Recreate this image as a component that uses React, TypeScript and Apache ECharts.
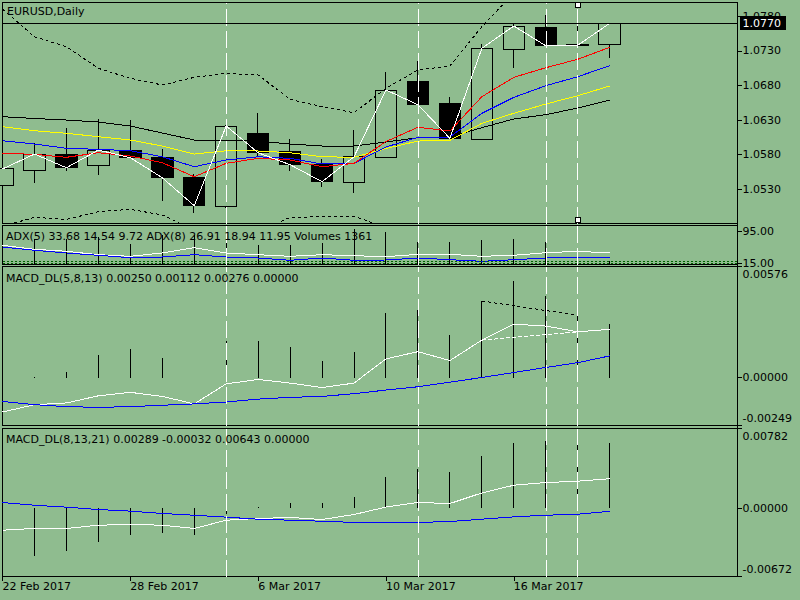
import React, { useEffect, useRef } from "react";
import * as echarts from "echarts";

// ---------- data ----------
const dates = [
  "22 Feb 2017", "23 Feb 2017", "24 Feb 2017", "27 Feb 2017", "28 Feb 2017",
  "1 Mar 2017", "2 Mar 2017", "3 Mar 2017", "6 Mar 2017", "7 Mar 2017",
  "8 Mar 2017", "9 Mar 2017", "10 Mar 2017", "13 Mar 2017", "14 Mar 2017",
  "15 Mar 2017", "16 Mar 2017", "17 Mar 2017", "20 Mar 2017", "21 Mar 2017",
];
const opens = [1.05362, 1.05569, 1.0581, 1.05647, 1.05868, 1.05753, 1.05464, 1.05054, 1.061, 1.05844, 1.05656, 1.05396, 1.05763, 1.06866, 1.06543, 1.06023, 1.07324, 1.07642, 1.07401, 1.07396];
const closes = [1.05594, 1.0581, 1.05612, 1.05868, 1.05757, 1.05468, 1.05063, 1.06215, 1.05829, 1.05656, 1.0541, 1.05771, 1.06736, 1.06523, 1.06037, 1.07339, 1.07661, 1.07376, 1.07382, 1.077];
const highs = [1.0562, 1.05965, 1.06182, 1.06316, 1.06302, 1.05878, 1.05521, 1.0623, 1.06399, 1.06023, 1.05734, 1.06157, 1.07, 1.07155, 1.06639, 1.07401, 1.0769, 1.0782, 1.07772, 1.0771];
const lows = [1.0533, 1.05387, 1.05569, 1.05511, 1.0575, 1.05135, 1.04953, 1.05037, 1.05774, 1.05569, 1.05338, 1.05251, 1.05753, 1.06519, 1.06027, 1.0602, 1.07049, 1.07372, 1.0737, 1.07194];

const maRed = [1.05821, 1.05806, 1.05763, 1.05829, 1.05782, 1.05685, 1.05482, 1.05676, 1.05748, 1.05724, 1.05627, 1.05676, 1.05991, 1.06197, 1.06143, 1.06639, 1.06919, 1.07058, 1.0718, 1.07353];
const maBlue = [1.06003, 1.05955, 1.05893, 1.05878, 1.05858, 1.05771, 1.05627, 1.05724, 1.05771, 1.05748, 1.05666, 1.05676, 1.05912, 1.06052, 1.06056, 1.06399, 1.0663, 1.06798, 1.06928, 1.07087];
const maYellow = [1.06205, 1.06147, 1.0611, 1.06061, 1.06013, 1.05926, 1.0581, 1.05858, 1.05854, 1.05829, 1.05771, 1.05763, 1.0589, 1.05998, 1.06009, 1.06254, 1.06399, 1.06533, 1.06653, 1.06794];
const maBlack = [1.0635, 1.06324, 1.06302, 1.06273, 1.06215, 1.06114, 1.06013, 1.06013, 1.05998, 1.05955, 1.05926, 1.05926, 1.05984, 1.06046, 1.06061, 1.06191, 1.06317, 1.06379, 1.06476, 1.06591];
const bandUpper = [1.07907, 1.07506, 1.07362, 1.07049, 1.06905, 1.06808, 1.06919, 1.06977, 1.06953, 1.06601, 1.06494, 1.06408, 1.0676, 1.07025, 1.07083, 1.07651, 1.08138, 1.08182, 1.0821, 1.08254];
const bandLower = [1.04765, 1.04895, 1.04866, 1.04976, 1.05011, 1.04929, 1.04712, 1.04625, 1.04683, 1.04895, 1.04904, 1.04914, 1.04741, 1.04567, 1.04495, 1.04278, 1.042, 1.0418, 1.0418, 1.042];

const adxFast = [60, 50, 45, 36.5, 32.5, 40.8, 54, 40.8, 36.5, 32.5, 36.5, 34, 31.5, 37.5, 37.5, 32.5, 35, 41.5, 45, 40.8];
const adxSlow = [55.75, 47.5, 40.75, 35, 29, 30.75, 36.5, 30.75, 28.25, 22.5, 28.25, 22.5, 23.25, 28.25, 24, 20, 24, 28.25, 30.75, 28.25];
const volumes = [12000, 10400, 10400, 11080, 8400, 11760, 11760, 12400, 8000, 7760, 8680, 14400, 13080, 9080, 9080, 9760, 10400, 9080, 6680, 1361];
const adxLevels = [20, 15];

const macd1Hist = [0, 0.00003, 0.00031, 0.00119, 0.00148, 0.00103, 0, 0.00191, 0.00191, 0.0016, 0.00088, 0.0013, 0.00335, 0.00349, 0.00223, 0.00397, 0.005, 0.00424, 0.00323, 0.00276];
const macd1White = [-0.00179, -0.00141, -0.00132, -0.00095, -0.00077, -0.00098, -0.00137, -0.00033, -0.0001, -0.00029, -0.00052, -0.00029, 0.00097, 0.00134, 0.00088, 0.00194, 0.00277, 0.00267, 0.00237, 0.0025];
const macd1Blue = [-0.00124, -0.00141, -0.00151, -0.00155, -0.00151, -0.00144, -0.00137, -0.00127, -0.00112, -0.00103, -0.00098, -0.00084, -0.00065, -0.00048, -0.00024, 0, 0.00026, 0.00052, 0.00077, 0.00112];
const divergenceFrom = 15;
const divergenceTo = 18;

const macd2Hist = [0, -0.00468, -0.00423, -0.00332, -0.00266, -0.00247, -0.00266, -0.0006, 0.0001, 0.0005, 0.0005, 0.0011, 0.00306, 0.00389, 0.00356, 0.00513, 0.00635, 0.0066, 0.00635, 0.00643];
const macd2White = [-0.00217, -0.002, -0.002, -0.00168, -0.00161, -0.00168, -0.002, -0.00119, -0.00102, -0.00092, -0.00112, -0.00063, 0.0001, 0.00055, 0.00045, 0.00149, 0.00225, 0.00251, 0.00264, 0.00289];
const macd2Blue = [0.00055, 0.00028, 0.00009, -0.00014, -0.0003, -0.00053, -0.0007, -0.00089, -0.00109, -0.00119, -0.00129, -0.00141, -0.00141, -0.00141, -0.00132, -0.00109, -0.00086, -0.0007, -0.0006, -0.00032];

const priceTicks = [1.053, 1.058, 1.063, 1.068, 1.073, 1.078];
const adxTicks = [15, 20, 95];
const macd1Ticks = [-0.00249, 0, 0.00576];
const macd2Ticks = [-0.00672, 0, 0.00782];
const vLineIdx = [7, 13, 17, 18];
const selectedIdx = 18;

const titleMain = "EURUSD,Daily";
const titleAdx = "ADX(5) 33.68 14.54 9.72 ADX(8) 26.91 18.94 11.95 Volumes 1361";
const titleMacd1 = "MACD_DL(5,8,13) 0.00250 0.00112 0.00276 0.00000";
const titleMacd2 = "MACD_DL(8,13,21) 0.00289 -0.00032 0.00643 0.00000";

// ---------- styling ----------
const BG = "#8FBC8F";
const FONT = "DejaVu Sans";
const GRID_LEFT = 2.5;
const GRID_RIGHT = 62.5;

function buildOption() {
  const extraSlots = 4;
  const cats = [...dates, ...Array.from({ length: extraSlots }, (_, i) => `slot${i}`)];
  const labelEvery = (i: number) => i < dates.length && i % 4 === 0;

  const gridDefs = [
    { top: 2.5, height: 221 },
    { top: 225.5, height: 39 },
    { top: 266.5, height: 159 },
    { top: 428.5, height: 148 },
  ];
  const grid = gridDefs.map((g) => ({
    ...g,
    left: GRID_LEFT,
    right: GRID_RIGHT,
    show: true,
    borderColor: "#000",
    borderWidth: 1,
    backgroundColor: "transparent",
    containLabel: false,
    outerBoundsMode: "none",
  }));

  const xAxis = gridDefs.map((_, i) => ({
    type: "category",
    gridIndex: i,
    data: cats,
    boundaryGap: false,
    show: i === 3,
    axisLine: { show: true, onZero: false, lineStyle: { color: "#000", width: 1 } },
    axisTick: {
      show: true,
      interval: (idx: number) => labelEvery(idx),
      length: 4,
      lineStyle: { color: "#000" },
    },
    axisLabel: {
      show: true,
      interval: (idx: number) => labelEvery(idx),
      align: "left",
      margin: 4,
      color: "#000",
      fontFamily: FONT,
      fontSize: 11,
    },
    splitLine: { show: false },
  }));

  const baseY = {
    type: "value",
    position: "right",
    axisLine: { show: true, onZero: false, lineStyle: { color: "#000", width: 1 } },
    splitLine: { show: false },
  };
  const labelFont = { color: "#000", fontFamily: FONT, fontSize: 11 };
  const edgeRich = {
    top: { ...labelFont, padding: [15, 0, 0, 0] },
    bot: { ...labelFont, padding: [0, 0, 14, 0] },
    mid: { ...labelFont },
  };
  const macdAxis = (gridIndex: number, ticks: number[]) => {
    const mn = ticks[0];
    const mx = ticks[ticks.length - 1];
    return {
      ...baseY,
      gridIndex,
      min: mn,
      max: mx,
      axisTick: { show: true, length: 4, customValues: ticks, lineStyle: { color: "#000" } },
      axisLabel: {
        ...labelFont,
        margin: 5,
        showMinLabel: true,
        showMaxLabel: true,
        customValues: ticks,
        formatter: (v: number) => {
          const s = (Math.abs(v) < 1e-12 ? 0 : v).toFixed(5);
          if (Math.abs(v - mx) < 1e-9) return `{top|${s}}`;
          if (Math.abs(v - mn) < 1e-9) return `{bot|${s}}`;
          return `{mid|${s}}`;
        },
        rich: edgeRich,
      },
    };
  };

  const yAxis: any[] = [
    {
      ...baseY,
      gridIndex: 0,
      min: 1.04806,
      max: 1.08001,
      axisTick: { show: true, length: 4, customValues: priceTicks, lineStyle: { color: "#000" } },
      axisLabel: { ...labelFont, margin: 5, customValues: priceTicks, formatter: (v: number) => v.toFixed(4) },
    },
    {
      ...baseY,
      gridIndex: 1,
      min: 12,
      max: 109.5,
      axisTick: { show: true, length: 4, customValues: adxTicks, lineStyle: { color: "#000" } },
      axisLabel: {
        ...labelFont,
        margin: 5,
        showMinLabel: true,
        showMaxLabel: true,
        hideOverlap: false,
        customValues: adxTicks,
        formatter: (v: number) => v.toFixed(2),
      },
    },
    { type: "value", gridIndex: 1, min: 0, max: 15600, show: false, splitLine: { show: false } },
    macdAxis(2, macd1Ticks),
    macdAxis(3, macd2Ticks),
  ];

  const vLineMark = () => ({
    silent: true,
    symbol: "none",
    animation: false,
    label: { show: false },
    lineStyle: { color: "#fff", type: [17, 5], width: 1 },
    data: vLineIdx.map((i) => ({ xAxis: i })),
  });

  const line = (data: any[], color: string, xi: number, yi: number, extra: any = {}) => {
    const { lineStyle, ...rest } = extra;
    return {
      type: "line",
      xAxisIndex: xi,
      yAxisIndex: yi,
      data,
      symbol: "none",
      showSymbol: false,
      clip: true,
      z: 3,
      lineStyle: { color, width: 1, ...(lineStyle || {}) },
      itemStyle: { color },
      ...rest,
    };
  };

  const bars = (data: number[], xi: number, yi: number, extra: any = {}) => ({
    type: "bar",
    xAxisIndex: xi,
    yAxisIndex: yi,
    data,
    barWidth: 1,
    itemStyle: { color: "#000" },
    z: 2,
    ...extra,
  });

  const lastClose = closes[closes.length - 1];
  const candles = dates.map((_, i) => [opens[i], closes[i], lows[i], highs[i]]);
  const yMinMain = yAxis[0].min as number;
  const yMaxMain = yAxis[0].max as number;
  const span = yMaxMain - yMinMain;

  const series: any[] = [
    {
      type: "candlestick",
      xAxisIndex: 0,
      yAxisIndex: 0,
      data: candles,
      barWidth: 22,
      clip: true,
      z: 2,
      itemStyle: { color: BG, color0: "#000", borderColor: "#000", borderColor0: "#000", borderWidth: 1 },
      markLine: vLineMark(),
    },
    line(bandUpper, "#000", 0, 0, { lineStyle: { type: [3, 3] } }),
    line(bandLower, "#000", 0, 0, { lineStyle: { type: [3, 3] } }),
    line(maBlack, "#000", 0, 0),
    line(maYellow, "#FFFF00", 0, 0),
    line(maBlue, "#0000FF", 0, 0),
    line(maRed, "#FF0000", 0, 0),
    line(closes, "#FFFFFF", 0, 0, {
      z: 4,
      markLine: {
        silent: true,
        symbol: "none",
        precision: 5,
        lineStyle: { color: "#000", type: "solid", width: 1 },
        label: {
          show: true,
          position: "end",
          distance: 2,
          formatter: lastClose.toFixed(4),
          color: "#fff",
          backgroundColor: "#000",
          padding: [2, 5, 1, 3],
          fontFamily: FONT,
          fontSize: 11,
        },
        data: [{ yAxis: lastClose }],
      },
      markPoint: {
        silent: true,
        symbol: "rect",
        symbolSize: 5,
        label: { show: false },
        itemStyle: { color: "#fff", borderColor: "#000", borderWidth: 1 },
        data: [
          { coord: [selectedIdx, yMaxMain - span * 0.013] },
          { coord: [selectedIdx, yMinMain + span * 0.0145] },
        ],
      },
    }),

    bars(volumes, 1, 2, { markLine: vLineMark() }),
    line(adxFast, "#FFFFFF", 1, 1, {
      markLine: {
        silent: true,
        symbol: "none",
        precision: 2,
        label: { show: false },
        lineStyle: { color: "#006400", type: [2, 2], width: 1 },
        data: adxLevels.map((v) => ({ yAxis: v })),
      },
    }),
    line(adxSlow, "#0000FF", 1, 1),

    bars(macd1Hist, 2, 3, { markLine: vLineMark() }),
    line(macd1White, "#FFFFFF", 2, 3),
    line(macd1Blue, "#0000FF", 2, 3),
    line(
      [
        [divergenceFrom, macd1Hist[divergenceFrom]],
        [divergenceTo, macd1Hist[divergenceTo]],
      ],
      "#000",
      2,
      3,
      { lineStyle: { type: [3, 3] } }
    ),
    line(
      [
        [divergenceFrom, macd1White[divergenceFrom]],
        [divergenceTo, macd1White[divergenceTo]],
      ],
      "#FFFFFF",
      2,
      3,
      { lineStyle: { type: [4, 2] } }
    ),

    bars(macd2Hist, 3, 4, { markLine: vLineMark() }),
    line(macd2White, "#FFFFFF", 3, 4),
    line(macd2Blue, "#0000FF", 3, 4),
  ];

  const txt = (text: string, x: number, y: number) => ({
    type: "text",
    x,
    y,
    z: 10,
    silent: true,
    style: { text, fill: "#000", font: `11px "${FONT}"`, verticalAlign: "middle", align: "left" },
  });

  const graphic = [
    txt(titleMain, 7, 11.5),
    txt(titleAdx, 6, 236.5),
    txt(titleMacd1, 6, 278),
    txt(titleMacd2, 6, 439.5),
    {
      type: "line",
      silent: true,
      z: 10,
      shape: { x1: 800 - GRID_RIGHT, y1: 2.5, x2: 800 - GRID_RIGHT, y2: 576.5 },
      style: { stroke: "#000", lineWidth: 1 },
    },
  ];

  return {
    animation: false,
    backgroundColor: BG,
    textStyle: { fontFamily: FONT },
    grid,
    xAxis,
    yAxis,
    series,
    graphic,
  };
}

export default function App() {
  const ref = useRef<HTMLDivElement>(null);
  useEffect(() => {
    if (!ref.current) return;
    const chart = echarts.init(ref.current, null, { renderer: "svg" });
    chart.setOption(buildOption() as any);
    return () => chart.dispose();
  }, []);
  return (
    <>
      <style>{`.mt4 svg path, .mt4 svg line, .mt4 svg rect { shape-rendering: crispEdges; }`}</style>
      <div
        ref={ref}
        className="mt4"
        style={{ position: "fixed", left: 0, top: 0, width: 800, height: 600, background: BG }}
      />
    </>
  );
}
